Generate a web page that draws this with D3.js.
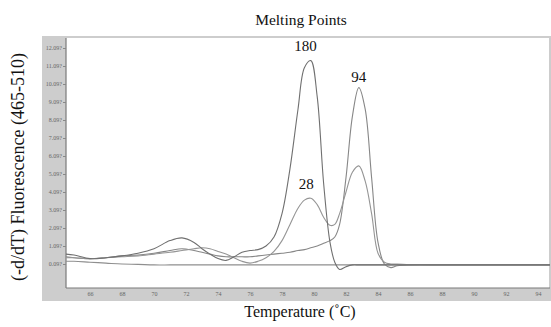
<!DOCTYPE html>
<html><head><meta charset="utf-8">
<script src="https://cdn.jsdelivr.net/npm/d3@7"></script>
<style>body{margin:0;background:#fff}</style>
</head><body>
<svg id="c" width="551" height="327"></svg>
<script>
const temps = [64.5,65,66,67,68,69,70,71,71.75,72.5,73,73.5,74,74.5,75,75.5,76,76.5,77,77.5,78,78.5,79,79.4,79.8,80.2,80.6,81,81.3,81.6,82,82.4,82.8,83.2,83.6,84,84.4,84.8,85.2,86,88,90,92,94.75];
const series180 = [0.55,0.5,0.3,0.35,0.45,0.6,0.85,1.3,1.45,1.2,0.85,0.55,0.3,0.2,0.4,0.65,0.75,0.8,1.0,1.5,2.8,5.3,8.6,10.9,11.3,9.3,4.5,1.2,0.1,-0.3,-0.15,-0.05,-0.05,-0.05,-0.05,-0.05,-0.05,-0.05,-0.05,-0.05,-0.05,-0.05,-0.05,-0.05];
const series94 = [0.4,0.35,0.3,0.35,0.45,0.5,0.6,0.75,0.85,0.75,0.65,0.55,0.45,0.4,0.4,0.4,0.4,0.45,0.5,0.55,0.6,0.65,0.75,0.8,0.9,1.0,1.15,1.3,1.5,2.2,4.8,8.2,9.8,8.6,4.8,1.2,0.0,-0.2,-0.1,-0.05,-0.05,-0.05,-0.05,-0.05];
const series28 = [0.35,0.35,0.3,0.35,0.4,0.45,0.55,0.65,0.75,0.85,0.9,0.85,0.7,0.55,0.35,0.15,0.05,0.15,0.35,0.7,1.3,2.2,3.1,3.55,3.65,3.3,2.6,2.15,2.2,2.8,4.0,5.1,5.45,4.6,2.8,0.6,0.1,0.0,0.0,-0.05,-0.05,-0.05,-0.05,-0.05];
const seriesBase = [0.15,0.15,0.1,0.05,0.0,-0.02,-0.05,-0.05,-0.05,-0.05,-0.05,-0.05,-0.05,-0.05,-0.05,-0.05,-0.05,-0.05,-0.05,-0.05,-0.05,-0.05,-0.05,-0.05,-0.05,-0.05,-0.05,-0.05,-0.05,-0.05,-0.05,-0.05,-0.05,-0.05,-0.05,-0.05,-0.05,-0.05,-0.05,-0.05,-0.05,-0.05,-0.05,-0.05];
const xTicks = [66,68,70,72,74,76,78,80,82,84,86,88,90,92,94];
const yTicks = [0,1,2,3,4,5,6,7,8,9,10,11,12];
const yTickLabels = ["0.09?","1.09?","2.09?","3.09?","4.09?","5.09?","6.09?","7.09?","8.09?","9.09?","10.09?","11.09?","12.09?"];
const peakLabels = [{t:"180",x:79.65,v:11.45},{t:"94",x:82.8,v:9.8},{t:"28",x:79.7,v:3.65}];

const svg = d3.select("#c");
const L=66,R=550,T=38,B=288;
const x = d3.scaleLinear().domain([64.5,94.75]).range([L,R]);
const y = d3.scaleLinear().domain([-1.333,12.556]).range([B,T]);

// gray frame
svg.append("rect").attr("x",42).attr("y",36).attr("width",509).attr("height",265).attr("fill","#cdcdcd");
svg.append("rect").attr("x",L).attr("y",T).attr("width",R-L-1).attr("height",B-T).attr("fill","#fff");
svg.append("line").attr("x1",L).attr("x2",L).attr("y1",T).attr("y2",B).attr("stroke","#7a7a7a").attr("stroke-width",1.2);
svg.append("line").attr("x1",L).attr("x2",R).attr("y1",B).attr("y2",B).attr("stroke","#7a7a7a").attr("stroke-width",1.2);

const serif = "'Liberation Serif','DejaVu Serif',serif";
// y axis
const ya = svg.append("g").attr("transform",`translate(${L},0)`)
  .call(d3.axisLeft(y).tickValues(yTicks).tickSize(3).tickFormat((d,i)=>yTickLabels[i]));
ya.select(".domain").remove();
ya.selectAll("line").attr("stroke","#888");
ya.selectAll("text").attr("font-family",serif).attr("font-size",6).attr("fill","#666").attr("x",-4);
// x axis
const xa = svg.append("g").attr("transform",`translate(0,${B})`)
  .call(d3.axisBottom(x).tickValues(xTicks).tickSize(0).tickFormat(d=>d));
xa.select(".domain").remove();
xa.selectAll("text").attr("font-family",serif).attr("font-size",6).attr("fill","#666").attr("dy","0.71em").attr("y",4);

const line = d3.line().x((d,i)=>x(temps[i])).y(d=>y(d)).curve(d3.curveCatmullRom.alpha(0.5));
const g = svg.append("g");
[[seriesBase,"#8f8f8f"],[series94,"#878787"],[series28,"#959595"],[series180,"#707070"]].forEach(([s,c])=>{
  g.append("path").attr("d",line(s)).attr("fill","none").attr("stroke",c).attr("stroke-width",1.1);
});

// peak labels
svg.append("text").attr("x",x(peakLabels[0].x)-3).attr("y",y(peakLabels[0].v)-7).attr("text-anchor","middle")
  .attr("font-family",serif).attr("font-size",15).attr("fill","#111").text(peakLabels[0].t);
svg.append("text").attr("x",x(peakLabels[1].x)).attr("y",y(peakLabels[1].v)-6).attr("text-anchor","middle")
  .attr("font-family",serif).attr("font-size",15).attr("fill","#111").text(peakLabels[1].t);
svg.append("text").attr("x",x(peakLabels[2].x)-3).attr("y",y(peakLabels[2].v)-9).attr("text-anchor","middle")
  .attr("font-family",serif).attr("font-size",15).attr("fill","#111").text(peakLabels[2].t);

// titles
svg.append("text").attr("x",301).attr("y",25).attr("text-anchor","middle").attr("font-family",serif)
  .attr("font-size",15.5).attr("fill","#111").text("Melting Points");
svg.append("text").attr("x",300).attr("y",317).attr("text-anchor","middle").attr("font-family",serif)
  .attr("font-size",16).attr("fill","#111").text("Temperature (˚C)");
svg.append("text").attr("transform","translate(24,167) rotate(-90)").attr("text-anchor","middle").attr("font-family",serif)
  .attr("font-size",18).attr("fill","#111").text("(-d/dT) Fluorescence (465-510)");
</script>
</body></html>
